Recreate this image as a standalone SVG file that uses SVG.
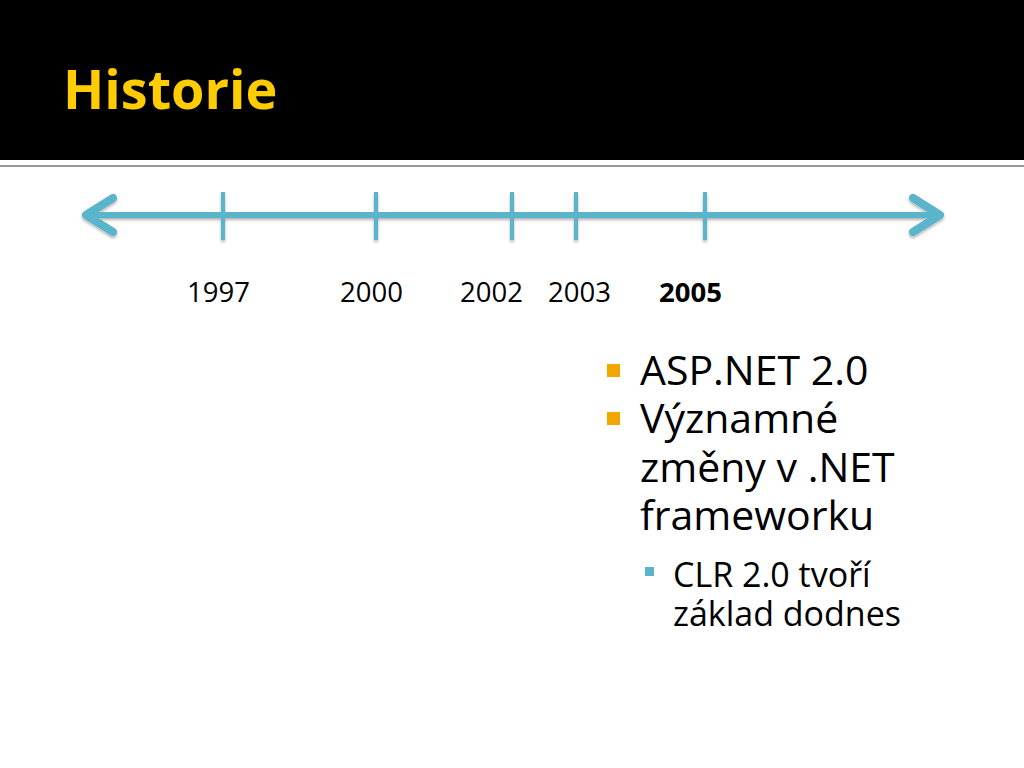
<svg xmlns="http://www.w3.org/2000/svg" width="1024" height="768" viewBox="0 0 1024 768">
<defs>
<style>
.title{font-family:"Open Sans","Lato",sans-serif;font-weight:bold;font-size:54px;fill:#FFCC00}
.yr{font-family:"Open Sans","Lato",sans-serif;font-size:27.5px;fill:#000}
.b1{font-family:"Open Sans","Lato",sans-serif;font-size:41px;fill:#000}
.b2{font-family:"Open Sans","Lato",sans-serif;font-size:34px;fill:#000}
.tl{stroke:#5AB4CB;fill:none;stroke-linecap:round;stroke-linejoin:round}
</style>
<filter id="sh" x="-5%" y="-50%" width="110%" height="200%">
<feDropShadow dx="0" dy="2" stdDeviation="1.5" flood-color="#000" flood-opacity="0.3"/>
</filter>
</defs>
<rect width="1024" height="768" fill="#fff"/>
<rect x="0" y="0" width="1024" height="160" fill="#000"/>
<rect x="0" y="165" width="1024" height="2" fill="#9a9a9a"/>
<text class="title" x="63" y="109">Historie</text>
<g id="timeline" filter="url(#sh)">
<line class="tl" x1="86" y1="215" x2="940" y2="215" stroke-width="6"/>
<polyline class="tl" points="113,198 86,215 113,232" stroke-width="8"/>
<polyline class="tl" points="913,198 940,215 913,232" stroke-width="8"/>
<g stroke="#5AB4CB" stroke-width="4">
<line x1="223" y1="192" x2="223" y2="240"/>
<line x1="376" y1="192" x2="376" y2="240"/>
<line x1="512" y1="192" x2="512" y2="240"/>
<line x1="576" y1="192" x2="576" y2="240"/>
<line x1="705" y1="192" x2="705" y2="240"/>
</g>
</g>
<g id="years">
<text class="yr" x="187" y="302">1997</text>
<text class="yr" x="340" y="302">2000</text>
<text class="yr" x="460" y="302">2002</text>
<text class="yr" x="548" y="302">2003</text>
<text class="yr" x="659" y="302" font-weight="bold" font-size="26px">2005</text>
</g>
<g id="bullets">
<rect x="607" y="364" width="13" height="13" fill="#F0A800"/>
<rect x="607" y="412" width="13" height="13" fill="#F0A800"/>
<text class="b1"><tspan x="640" y="385">ASP.NET 2.0</tspan><tspan x="640" y="433">Významné</tspan><tspan x="640" y="482">změny v .NET</tspan><tspan x="640" y="530">frameworku</tspan></text>
<rect x="645" y="567" width="9" height="9" fill="#5AB4CB"/>
<text class="b2"><tspan x="673" y="587">CLR 2.0 tvoří</tspan><tspan x="673" y="626">základ dodnes</tspan></text>
</g>
</svg>
